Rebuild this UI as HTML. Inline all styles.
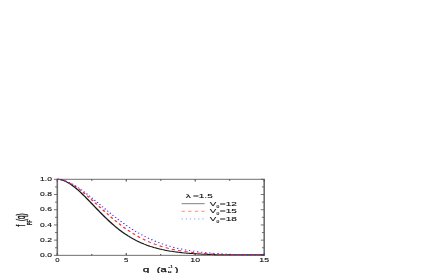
<!DOCTYPE html>
<html><head><meta charset="utf-8"><style>
html,body{margin:0;padding:0;background:#fff;}
body{width:436px;height:273px;overflow:hidden;}
svg{display:block;filter:blur(0.4px);}
text{font-family:"Liberation Sans",sans-serif;fill:#111;stroke:#111;stroke-width:0.1;}
</style></head><body>
<svg width="436" height="273" viewBox="0 0 436 273">
<path d="M57.3,179.3 V255.35 M264.2,179.3 V255.35" stroke="#6e6e6e" stroke-width="1.6" fill="none"/>
<path d="M56.5,179.3 H265.0 M56.5,255.35 H265.0" stroke="#707070" stroke-width="1" fill="none"/>
<path d="M57.30,255.35 v-2.3 M57.30,179.3 v2.3 M91.78,255.35 v-1.4 M91.78,179.3 v1.4 M126.27,255.35 v-2.3 M126.27,179.3 v2.3 M160.75,255.35 v-1.4 M160.75,179.3 v1.4 M195.23,255.35 v-2.3 M195.23,179.3 v2.3 M229.72,255.35 v-1.4 M229.72,179.3 v1.4 M264.20,255.35 v-2.3 M264.20,179.3 v2.3" stroke="#555" stroke-width="1.2" fill="none"/>
<path d="M57.3,255.35 h-3.4 M264.2,255.35 h-3.4 M57.3,247.75 h-2.3 M264.2,247.75 h-2.3 M57.3,240.14 h-3.4 M264.2,240.14 h-3.4 M57.3,232.53 h-2.3 M264.2,232.53 h-2.3 M57.3,224.93 h-3.4 M264.2,224.93 h-3.4 M57.3,217.32 h-2.3 M264.2,217.32 h-2.3 M57.3,209.72 h-3.4 M264.2,209.72 h-3.4 M57.3,202.12 h-2.3 M264.2,202.12 h-2.3 M57.3,194.51 h-3.4 M264.2,194.51 h-3.4 M57.3,186.91 h-2.3 M264.2,186.91 h-2.3 M57.3,179.30 h-3.4 M264.2,179.30 h-3.4" stroke="#555" stroke-width="0.8" fill="none"/>
<g transform="scale(1.5,1)">
<path d="M38.200,179.30 L39.120,179.38 L40.039,179.58 L40.959,179.89 L41.878,180.30 L42.798,180.80 L43.717,181.40 L44.637,182.08 L45.556,182.84 L46.476,183.68 L47.396,184.59 L48.315,185.56 L49.235,186.60 L50.154,187.69 L51.074,188.84 L51.993,190.03 L52.913,191.27 L53.832,192.54 L54.752,193.85 L55.672,195.19 L56.591,196.56 L57.511,197.95 L58.430,199.36 L59.350,200.78 L60.269,202.21 L61.189,203.65 L62.108,205.09 L63.028,206.53 L63.948,207.97 L64.867,209.40 L65.787,210.82 L66.706,212.24 L67.626,213.64 L68.545,215.02 L69.465,216.38 L70.384,217.73 L71.304,219.05 L72.224,220.35 L73.143,221.63 L74.063,222.88 L74.982,224.10 L75.902,225.30 L76.821,226.47 L77.741,227.60 L78.660,228.71 L79.580,229.79 L80.500,230.84 L81.419,231.85 L82.339,232.84 L83.258,233.80 L84.178,234.72 L85.097,235.62 L86.017,236.48 L86.936,237.32 L87.856,238.12 L88.776,238.90 L89.695,239.65 L90.615,240.37 L91.534,241.06 L92.454,241.72 L93.373,242.36 L94.293,242.98 L95.212,243.56 L96.132,244.13 L97.052,244.67 L97.971,245.19 L98.891,245.68 L99.810,246.16 L100.730,246.61 L101.649,247.04 L102.569,247.46 L103.488,247.85 L104.408,248.23 L105.328,248.59 L106.247,248.93 L107.167,249.25 L108.086,249.57 L109.006,249.86 L109.925,250.14 L110.845,250.41 L111.764,250.67 L112.684,250.91 L113.604,251.14 L114.523,251.36 L115.443,251.57 L116.362,251.77 L117.282,251.96 L118.201,252.13 L119.121,252.30 L120.040,252.46 L120.960,252.62 L121.880,252.76 L122.799,252.90 L123.719,253.03 L124.638,253.15 L125.558,253.27 L126.477,253.38 L127.397,253.49 L128.316,253.59 L129.236,253.68 L130.156,253.77 L131.075,253.85 L131.995,253.93 L132.914,254.01 L133.834,254.08 L134.753,254.15 L135.673,254.21 L136.592,254.27 L137.512,254.33 L138.432,254.39 L139.351,254.44 L140.271,254.49 L141.190,254.53 L142.110,254.58 L143.029,254.62 L143.949,254.66 L144.868,254.69 L145.788,254.73 L146.708,254.75 L147.627,254.75 L148.547,254.75 L149.466,254.75 L150.386,254.75 L151.305,254.75 L152.225,254.75 L153.144,254.75 L154.064,254.75 L154.984,254.75 L155.903,254.75 L156.823,254.75 L157.742,254.75 L158.662,254.75 L159.581,254.75 L160.501,254.75 L161.420,254.75 L162.340,254.75 L163.260,254.75 L164.179,254.75 L165.099,254.75 L166.018,254.75 L166.938,254.75 L167.857,254.75 L168.777,254.75 L169.696,254.75 L170.616,254.75 L171.536,254.75 L172.455,254.75 L173.375,254.75 L174.294,254.75 L175.214,254.75 L176.133,254.75" fill="none" stroke="#1a1a1a" stroke-width="1.05"/>
<path d="M38.200,179.30 L39.120,179.38 L40.039,179.56 L40.959,179.84 L41.878,180.21 L42.798,180.65 L43.717,181.16 L44.637,181.74 L45.556,182.39 L46.476,183.09 L47.396,183.85 L48.315,184.66 L49.235,185.53 L50.154,186.43 L51.074,187.39 L51.993,188.38 L52.913,189.41 L53.832,190.47 L54.752,191.56 L55.672,192.68 L56.591,193.83 L57.511,195.00 L58.430,196.19 L59.350,197.39 L60.269,198.61 L61.189,199.84 L62.108,201.09 L63.028,202.34 L63.948,203.59 L64.867,204.85 L65.787,206.10 L66.706,207.36 L67.626,208.62 L68.545,209.86 L69.465,211.11 L70.384,212.34 L71.304,213.56 L72.224,214.78 L73.143,215.98 L74.063,217.17 L74.982,218.34 L75.902,219.49 L76.821,220.63 L77.741,221.75 L78.660,222.86 L79.580,223.94 L80.500,225.00 L81.419,226.04 L82.339,227.06 L83.258,228.06 L84.178,229.04 L85.097,229.99 L86.017,230.92 L86.936,231.83 L87.856,232.71 L88.776,233.58 L89.695,234.42 L90.615,235.23 L91.534,236.02 L92.454,236.79 L93.373,237.54 L94.293,238.26 L95.212,238.97 L96.132,239.64 L97.052,240.30 L97.971,240.94 L98.891,241.55 L99.810,242.15 L100.730,242.72 L101.649,243.27 L102.569,243.80 L103.488,244.32 L104.408,244.81 L105.328,245.29 L106.247,245.75 L107.167,246.19 L108.086,246.61 L109.006,247.02 L109.925,247.41 L110.845,247.78 L111.764,248.14 L112.684,248.49 L113.604,248.82 L114.523,249.13 L115.443,249.44 L116.362,249.73 L117.282,250.00 L118.201,250.27 L119.121,250.52 L120.040,250.77 L120.960,251.00 L121.880,251.22 L122.799,251.43 L123.719,251.63 L124.638,251.82 L125.558,252.00 L126.477,252.18 L127.397,252.34 L128.316,252.50 L129.236,252.65 L130.156,252.79 L131.075,252.93 L131.995,253.06 L132.914,253.18 L133.834,253.30 L134.753,253.41 L135.673,253.51 L136.592,253.61 L137.512,253.71 L138.432,253.80 L139.351,253.88 L140.271,253.96 L141.190,254.04 L142.110,254.11 L143.029,254.18 L143.949,254.25 L144.868,254.31 L145.788,254.37 L146.708,254.42 L147.627,254.48 L148.547,254.52 L149.466,254.57 L150.386,254.62 L151.305,254.66 L152.225,254.70 L153.144,254.73 L154.064,254.75 L154.984,254.75 L155.903,254.75 L156.823,254.75 L157.742,254.75 L158.662,254.75 L159.581,254.75 L160.501,254.75 L161.420,254.75 L162.340,254.75 L163.260,254.75 L164.179,254.75 L165.099,254.75 L166.018,254.75 L166.938,254.75 L167.857,254.75 L168.777,254.75 L169.696,254.75 L170.616,254.75 L171.536,254.75 L172.455,254.75 L173.375,254.75 L174.294,254.75 L175.214,254.75 L176.133,254.75" fill="none" stroke="#f22" stroke-width="1.0" stroke-dasharray="2.2,2.2"/>
<path d="M38.200,179.30 L39.120,179.38 L40.039,179.56 L40.959,179.82 L41.878,180.16 L42.798,180.57 L43.717,181.04 L44.637,181.57 L45.556,182.16 L46.476,182.79 L47.396,183.48 L48.315,184.22 L49.235,184.99 L50.154,185.81 L51.074,186.66 L51.993,187.55 L52.913,188.48 L53.832,189.43 L54.752,190.41 L55.672,191.42 L56.591,192.45 L57.511,193.50 L58.430,194.57 L59.350,195.66 L60.269,196.76 L61.189,197.87 L62.108,199.00 L63.028,200.13 L63.948,201.27 L64.867,202.42 L65.787,203.57 L66.706,204.72 L67.626,205.88 L68.545,207.03 L69.465,208.18 L70.384,209.32 L71.304,210.46 L72.224,211.59 L73.143,212.72 L74.063,213.84 L74.982,214.94 L75.902,216.04 L76.821,217.12 L77.741,218.20 L78.660,219.25 L79.580,220.30 L80.500,221.33 L81.419,222.34 L82.339,223.34 L83.258,224.32 L84.178,225.28 L85.097,226.23 L86.017,227.16 L86.936,228.07 L87.856,228.96 L88.776,229.83 L89.695,230.69 L90.615,231.52 L91.534,232.34 L92.454,233.14 L93.373,233.91 L94.293,234.67 L95.212,235.41 L96.132,236.13 L97.052,236.83 L97.971,237.52 L98.891,238.18 L99.810,238.82 L100.730,239.45 L101.649,240.06 L102.569,240.65 L103.488,241.22 L104.408,241.77 L105.328,242.31 L106.247,242.83 L107.167,243.33 L108.086,243.82 L109.006,244.29 L109.925,244.74 L110.845,245.18 L111.764,245.61 L112.684,246.02 L113.604,246.41 L114.523,246.79 L115.443,247.16 L116.362,247.51 L117.282,247.85 L118.201,248.18 L119.121,248.50 L120.040,248.80 L120.960,249.09 L121.880,249.37 L122.799,249.64 L123.719,249.90 L124.638,250.15 L125.558,250.39 L126.477,250.62 L127.397,250.83 L128.316,251.05 L129.236,251.25 L130.156,251.44 L131.075,251.62 L131.995,251.80 L132.914,251.97 L133.834,252.13 L134.753,252.29 L135.673,252.44 L136.592,252.58 L137.512,252.71 L138.432,252.84 L139.351,252.97 L140.271,253.08 L141.190,253.20 L142.110,253.30 L143.029,253.41 L143.949,253.50 L144.868,253.60 L145.788,253.69 L146.708,253.77 L147.627,253.85 L148.547,253.93 L149.466,254.00 L150.386,254.07 L151.305,254.14 L152.225,254.20 L153.144,254.26 L154.064,254.32 L154.984,254.37 L155.903,254.42 L156.823,254.47 L157.742,254.52 L158.662,254.56 L159.581,254.60 L160.501,254.64 L161.420,254.68 L162.340,254.72 L163.260,254.75 L164.179,254.75 L165.099,254.75 L166.018,254.75 L166.938,254.75 L167.857,254.75 L168.777,254.75 L169.696,254.75 L170.616,254.75 L171.536,254.75 L172.455,254.75 L173.375,254.75 L174.294,254.75 L175.214,254.75 L176.133,254.75" fill="none" stroke="#33f" stroke-width="1.0" stroke-dasharray="0.9,1.85"/>
</g>
<text x="40.00" y="257.10" font-size="4.8" textLength="11.90" lengthAdjust="spacingAndGlyphs" >0.0</text>
<text x="40.00" y="241.89" font-size="4.8" textLength="11.90" lengthAdjust="spacingAndGlyphs" >0.2</text>
<text x="40.00" y="226.68" font-size="4.8" textLength="11.90" lengthAdjust="spacingAndGlyphs" >0.4</text>
<text x="40.00" y="211.47" font-size="4.8" textLength="11.90" lengthAdjust="spacingAndGlyphs" >0.6</text>
<text x="40.00" y="196.26" font-size="4.8" textLength="11.90" lengthAdjust="spacingAndGlyphs" >0.8</text>
<text x="40.00" y="181.05" font-size="4.8" textLength="11.90" lengthAdjust="spacingAndGlyphs" >1.0</text>
<text x="55.15" y="261.50" font-size="5" textLength="4.30" lengthAdjust="spacingAndGlyphs" >0</text>
<text x="124.12" y="261.50" font-size="5" textLength="4.30" lengthAdjust="spacingAndGlyphs" >5</text>
<text x="190.38" y="261.50" font-size="5" textLength="9.70" lengthAdjust="spacingAndGlyphs" >10</text>
<text x="259.35" y="261.50" font-size="5" textLength="9.70" lengthAdjust="spacingAndGlyphs" >15</text>
<text x="142.70" y="271.80" font-size="7.6" textLength="6.60" lengthAdjust="spacingAndGlyphs" style="stroke-width:0.25">q</text>
<text x="156.80" y="271.80" font-size="7.6" textLength="10.00" lengthAdjust="spacingAndGlyphs" style="stroke-width:0.25">(a</text>
<text x="167.50" y="273.60" font-size="4.2" textLength="4.50" lengthAdjust="spacingAndGlyphs" >B</text>
<text x="168.20" y="268.40" font-size="4.2" textLength="5.20" lengthAdjust="spacingAndGlyphs" >-1</text>
<text x="174.80" y="271.80" font-size="7.6" textLength="3.70" lengthAdjust="spacingAndGlyphs" style="stroke-width:0.25">)</text>
<g style="stroke-width:0.18" transform="translate(25.3,226.5) scale(2.17,1) rotate(-90)"><text x="0" y="0" font-size="6" style="stroke-width:0.2">f</text><text x="5.5" y="0" font-size="6" textLength="7.7" lengthAdjust="spacingAndGlyphs" style="stroke-width:0.2">(q)</text></g>
<g transform="translate(31.8,225.0) scale(2.1,1) rotate(-90)"><text x="0" y="0" font-size="3.7" style="stroke-width:0.15">PF</text></g>
<text x="185.80" y="198.10" font-size="5.4" textLength="5.10" lengthAdjust="spacingAndGlyphs" >λ</text>
<text x="193.00" y="198.10" font-size="5.2" textLength="19.70" lengthAdjust="spacingAndGlyphs" >=1.5</text>
<path d="M181.6,203.70 H204.7" stroke="#808080" stroke-width="1"/>
<text x="209.80" y="205.70" font-size="5.6" textLength="6.50" lengthAdjust="spacingAndGlyphs" >V</text>
<text x="216.50" y="207.60" font-size="3.2" textLength="2.80" lengthAdjust="spacingAndGlyphs" >0</text>
<text x="219.80" y="205.70" font-size="5.6" textLength="17.00" lengthAdjust="spacingAndGlyphs" >=12</text>
<path d="M181.6,211.30 H204.7" stroke="#f88" stroke-width="1" stroke-dasharray="3.3,3.3"/>
<text x="209.80" y="213.25" font-size="5.6" textLength="6.50" lengthAdjust="spacingAndGlyphs" >V</text>
<text x="216.50" y="215.15" font-size="3.2" textLength="2.80" lengthAdjust="spacingAndGlyphs" >0</text>
<text x="219.80" y="213.25" font-size="5.6" textLength="17.00" lengthAdjust="spacingAndGlyphs" >=15</text>
<path d="M181.6,218.90 H204.7" stroke="#9c9cff" stroke-width="1" stroke-dasharray="1.3,2.85"/>
<text x="209.80" y="220.80" font-size="5.6" textLength="6.50" lengthAdjust="spacingAndGlyphs" >V</text>
<text x="216.50" y="222.70" font-size="3.2" textLength="2.80" lengthAdjust="spacingAndGlyphs" >0</text>
<text x="219.80" y="220.80" font-size="5.6" textLength="17.00" lengthAdjust="spacingAndGlyphs" >=18</text>
</svg>
</body></html>
